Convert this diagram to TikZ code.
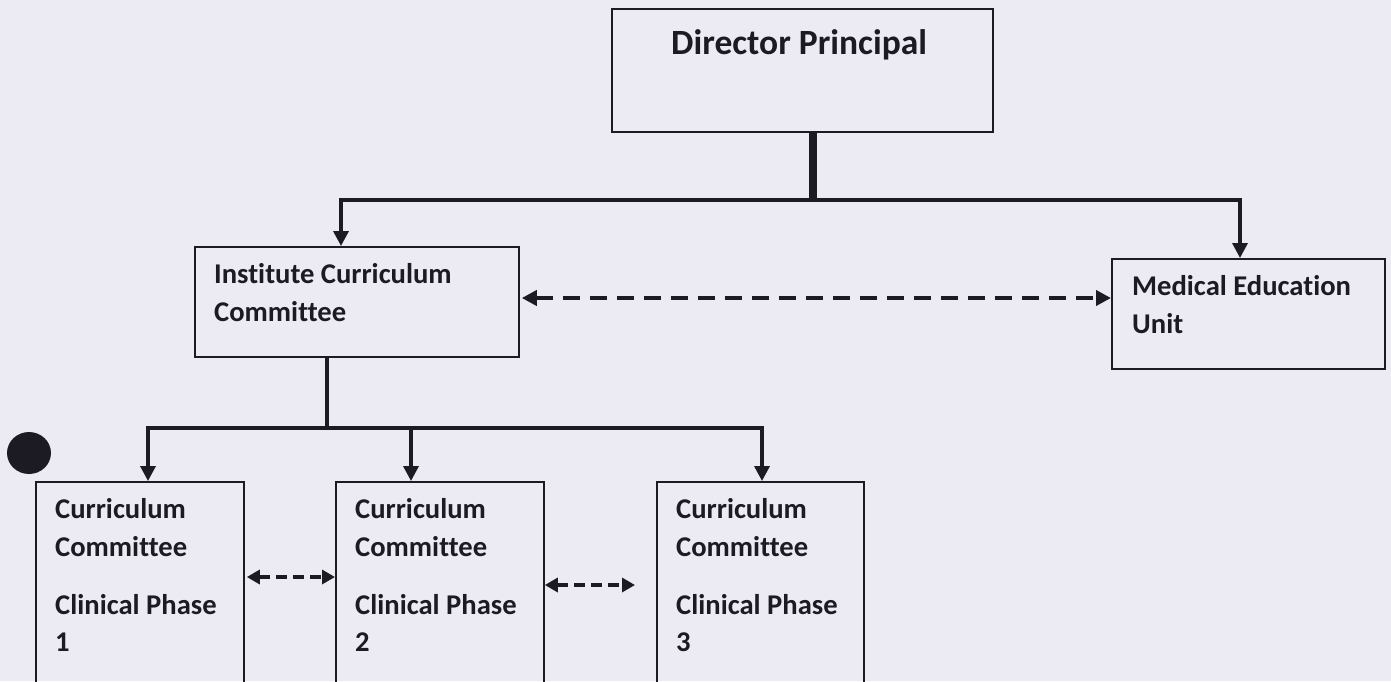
\documentclass[tikz,border=0pt]{standalone}
\usepackage{fontspec}
\setmainfont{Carlito}[Ligatures={NoCommon}, RawFeature={-liga}]
\usetikzlibrary{arrows.meta}
\definecolor{paper}{HTML}{ECEBF3}
\definecolor{ink}{HTML}{1C1A22}
\tikzset{
  box/.style={draw=ink, line width=1.8pt, anchor=north west, inner sep=0pt},
  lbl/.style={anchor=base west, inner sep=0pt, text=ink, font=\bfseries\fontsize{28.6}{34}\selectfont},
  conn/.style={draw=ink, line width=3.4pt},
  arr/.style={conn, -{Triangle[length=15pt,width=15pt]}},
  darr/.style={draw=ink, line width=3.8pt, dash pattern=on 17pt off 10pt,
    {Triangle[length=15pt,width=15pt]}-{Triangle[length=15pt,width=15pt]}},
  sdarr/.style={draw=ink, line width=3.4pt, dash pattern=on 11pt off 6pt,
    {Triangle[length=13pt,width=14pt]}-{Triangle[length=13pt,width=14pt]}},
}
\begin{document}
\begin{tikzpicture}[x=1pt,y=-1pt]
\fill[paper] (0,0) rectangle (1391,681);
\useasboundingbox (0,0) rectangle (1391,681);
% boxes
\node[box, minimum width=381pt, minimum height=123pt] (dp) at (611,8) {};
\node[box, minimum width=324pt, minimum height=110pt] (icc) at (194,246) {};
\node[box, minimum width=273pt, minimum height=110pt] (meu) at (1111,258) {};
\node[box, minimum width=208pt, minimum height=212pt] (c1) at (35,481) {};
\node[box, minimum width=208pt, minimum height=212pt] (c2) at (335,481) {};
\node[box, minimum width=207pt, minimum height=212pt] (c3) at (656,481) {};
% texts
\node[lbl, font=\bfseries\fontsize{35.5}{40}\selectfont] (tdp) at (671,54) {Director Principal};
\node[lbl] (ticc1) at (214,283) {Institute Curriculum};
\node[lbl] (ticc2) at (214,321) {Committee};
\node[lbl] (tmeu1) at (1132,295) {Medical Education};
\node[lbl] (tmeu2) at (1132,333) {Unit};
\foreach \n/\x/\d in {1/55/1, 2/355/2, 3/676/3}{
  \node[lbl] (c\n a) at (\x,518) {Curriculum};
  \node[lbl] (c\n b) at (\x,556) {Committee};
  \node[lbl] (c\n c) at (\x,614) {Clinical Phase};
  \node[lbl] (c\n d) at (\x,651) {\d};
}
% top connectors
\coordinate (bm) at (813,200);
\coordinate (bl) at (341,200);
\coordinate (br) at (1240,200);
\draw[draw=ink, line width=8pt] (dp.south -| bm) -- (bm);
\draw[conn] ([xshift=-1.7pt]bl) -- ([xshift=1.7pt]br);
\draw[arr] (bl) -- (bl |- icc.north);
\draw[arr] (br) -- (br |- meu.north);
% lower connectors
\coordinate (lm) at (327,428);
\coordinate (ll) at (148,428);
\coordinate (lc) at (411,428);
\coordinate (lr) at (762,428);
\draw[conn] (icc.south -| lm) -- (lm);
\draw[conn] ([xshift=-1.7pt]ll) -- ([xshift=1.7pt]lr);
\draw[arr] (ll) -- (ll |- c1.north);
\draw[arr] (lc) -- (lc |- c2.north);
\draw[arr] (lr) -- (lr |- c3.north);
% dashed links
\coordinate (d1) at (0,298);
\draw[darr] ([xshift=2pt]icc.east |- d1) -- (meu.west |- d1);
\coordinate (d2) at (0,577);
\draw[sdarr] ([xshift=2pt]c1.east |- d2) -- (c2.west |- d2);
\coordinate (d3) at (0,585);
\draw[sdarr, shorten >=21pt] (c2.east |- d3) -- (c3.west |- d3);
% punch mark
\fill[ink] (29,453) ellipse (22pt and 21pt);
\end{tikzpicture}
\end{document}
